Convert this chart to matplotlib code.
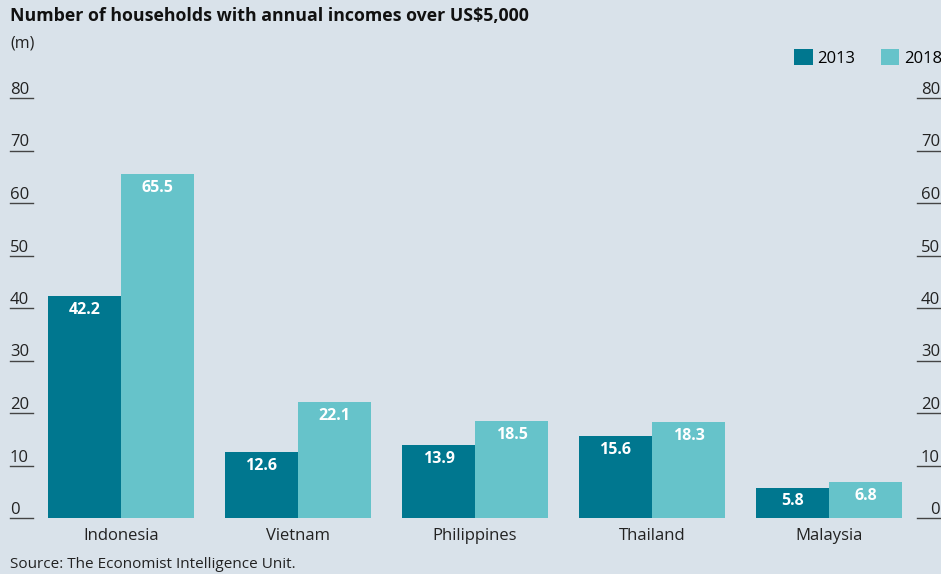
import matplotlib.pyplot as plt
import numpy as np

# data
countries = ['Indonesia', 'Vietnam', 'Philippines', 'Thailand', 'Malaysia']
y2013 = [42.2, 12.6, 13.9, 15.6, 5.8]
y2018 = [65.5, 22.1, 18.5, 18.3, 6.8]
yticks = [0, 10, 20, 30, 40, 50, 60, 70, 80]

bg = '#d9e2ea'
c13 = '#00778f'
c18 = '#66c3ca'

plt.rcParams['font.family'] = ['Open Sans', 'DejaVu Sans']

fig = plt.figure(figsize=(9.41, 5.74), dpi=100, facecolor=bg)
W, H = 941, 574
# axes from x=10px to 940px, y=0 at 518px, y=80 at 98px
ax = fig.add_axes([10 / W, (H - 518) / H, 930 / W, (518 - 98) / H])
ax.set_facecolor(bg)

x = np.arange(len(countries))
w = 73 / 177
ax.bar(x - w / 2, y2013, width=w, color=c13, label='2013')
ax.bar(x + w / 2, y2018, width=w, color=c18, label='2018')
ax.set_xlim((10 - 121) / 177, (940 - 121) / 177)
ax.set_ylim(0, 80)

# value labels inside bars
for i in range(len(countries)):
    ax.annotate(f'{y2013[i]:.1f}', (x[i] - w / 2, y2013[i]), xytext=(0, -10),
                textcoords='offset points', ha='center', va='center',
                color='white', fontsize=11.5, fontweight='bold')
    ax.annotate(f'{y2018[i]:.1f}', (x[i] + w / 2, y2018[i]), xytext=(0, -10),
                textcoords='offset points', ha='center', va='center',
                color='white', fontsize=11.5, fontweight='bold')

# economist style ticks: short lines with labels above, both sides
tr = ax.get_yaxis_transform()
for t in yticks:
    ax.plot([0, 23 / 930], [t, t], color='#444444', lw=1, transform=tr, clip_on=False)
    ax.plot([1 - 23 / 930, 1], [t, t], color='#444444', lw=1, transform=tr, clip_on=False)
    ax.text(0, t, f'{t}', transform=tr, ha='left', va='bottom', fontsize=12,
            color='#222222')
    ax.text(1, t, f'{t}', transform=tr, ha='right', va='bottom', fontsize=12,
            color='#222222')

for s in ax.spines.values():
    s.set_visible(False)
ax.set_yticks([])
ax.set_xticks(x)
ax.set_xticklabels(countries, fontsize=12, color='#222222')
ax.tick_params(axis='x', length=0, pad=7)

fig.text(10 / W, 1 - 16 / H, 'Number of households with annual incomes over US$5,000',
         ha='left', va='center', fontsize=12.8, fontweight='bold', color='#111111')
fig.text(10 / W, 1 - 44 / H, '(m)', ha='left', va='center', fontsize=11.5, color='#222222')
fig.text(10 / W, 1 - 564 / H, 'Source: The Economist Intelligence Unit.',
         ha='left', va='center', fontsize=11, color='#222222')

fig.legend(loc='upper right', bbox_to_anchor=(942 / W, 1 - 49 / H), ncol=2,
           frameon=False, fontsize=12, handlelength=1.1, handleheight=1.1,
           handletextpad=0.3, columnspacing=1.5, borderaxespad=0, borderpad=0)

fig.savefig('out.png', dpi=100, facecolor=bg)
